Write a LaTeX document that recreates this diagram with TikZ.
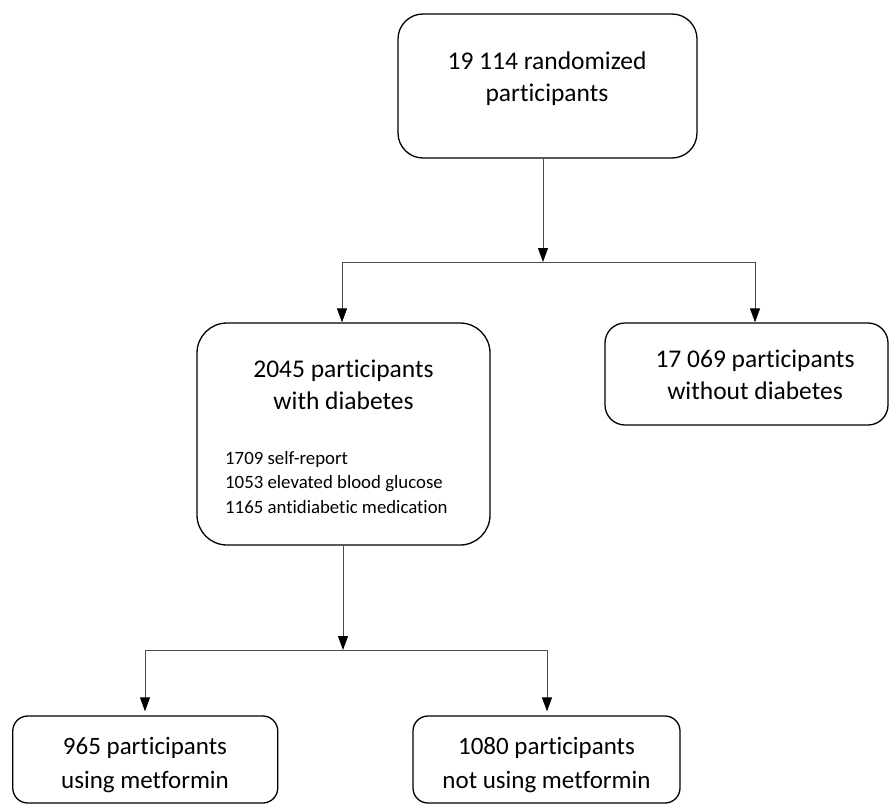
\documentclass[tikz,border=0pt]{standalone}
\usepackage{fontspec}
\setmainfont[Ligatures=NoCommon]{Carlito}
\usetikzlibrary{arrows.meta}
\tikzset{
  box/.style={draw=black, line width=1.3pt, rounded corners=#1, inner sep=0pt},
  big/.style={align=center, font=\fontsize{25.5}{32}\selectfont, inner sep=0pt},
  small/.style={align=left, font=\fontsize{18.8}{24.5}\selectfont, inner sep=0pt, anchor=north west},
  conn/.style={draw=black!70, line width=0.9pt},
  arr/.style={conn, -{Triangle[length=14pt,width=10pt,color=black]}}
}
\begin{document}
\begin{tikzpicture}[x=1pt,y=-1pt]
\useasboundingbox (0,0) rectangle (890,805);
% boxes
\node[box=25pt, minimum width=299pt, minimum height=144pt] (top) at (547.5,86) {};
\node[big] (toptxt) at (547,79) {19 114 randomized\\participants};
\node[box=30pt, minimum width=293pt, minimum height=222pt] (diab) at (343.5,434) {};
\node[big] (diabtxt) at (343.5,385) {2045 participants\\with diabetes};
\node[small] (diabsub) at (225,451) {1709 self-report\\1053 elevated blood glucose\\1165 antidiabetic medication};
\node[box=20pt, minimum width=283pt, minimum height=102pt] (nodiab) at (746.5,374) {};
\node[big] (nodiabtxt) at (755,375) {17 069 participants\\without diabetes};
\node[box=15pt, minimum width=265pt, minimum height=87pt] (met) at (145.25,759.5) {};
\node[big, font=\fontsize{25}{34}\selectfont] (mettxt) at (145,765) {965 participants\\using metformin};
\node[box=15pt, minimum width=267pt, minimum height=87pt] (nomet) at (546.5,759.5) {};
\node[big, font=\fontsize{25}{34}\selectfont] (nomettxt) at (546.5,765) {1080 participants\\not using metformin};
% junction coordinates
\coordinate (j1) at (543,262);
\coordinate (j1l) at (342,262);
\coordinate (j1r) at (755,262);
\coordinate (j2) at (343,650);
\coordinate (j2l) at (145,650);
\coordinate (j2r) at (547,650);
% connectors
\draw[arr] (top.south -| j1) -- (j1);
\draw[conn] (j1l) -- (j1r);
\draw[arr] (j1l) -- (j1l |- diab.north);
\draw[arr] (j1r) -- (j1r |- nodiab.north);
\draw[arr] (diab.south -| j2) -- (j2);
\draw[conn] (j2l) -- (j2r);
\draw[arr] (j2l) -- ([yshift=4pt]j2l |- met.north);
\draw[arr] (j2r) -- ([yshift=4pt]j2r |- nomet.north);
\end{tikzpicture}
\end{document}
